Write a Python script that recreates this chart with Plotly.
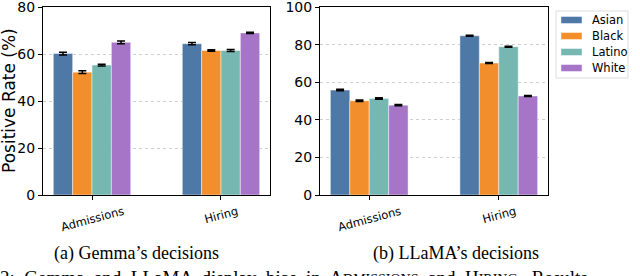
import plotly.graph_objects as go

# ---- data ----
tasks = ["Admissions", "Hiring"]
groups = ["Asian", "Black", "Latino", "White"]
colors = ["#4e79a7", "#f28e2b", "#76b7b2", "#a675c7"]

gemma_vals = {
    "Asian": [60.2, 64.4],
    "Black": [52.3, 61.5],
    "Latino": [55.3, 61.5],
    "White": [65.0, 69.0],
}
gemma_err = {
    "Asian": [0.6, 0.5],
    "Black": [0.6, 0.3],
    "Latino": [0.4, 0.4],
    "White": [0.6, 0.3],
}
llama_vals = {
    "Asian": [55.8, 84.7],
    "Black": [50.1, 70.2],
    "Latino": [51.3, 78.9],
    "White": [47.8, 52.7],
}
llama_err = {
    "Asian": [0.4, 0.3],
    "Black": [0.4, 0.3],
    "Latino": [0.4, 0.3],
    "White": [0.3, 0.3],
}
gemma_ticks = [0, 20, 40, 60, 80]
llama_ticks = [0, 20, 40, 60, 80, 100]
captions = ["(a) Gemma’s decisions", "(b) LLaMA’s decisions"]
y_title = "Positive Rate (%)"

W, H = 640, 276
xpos = list(range(len(tasks)))

fig = go.Figure()

def add_panel(vals, errs, xa, ya):
    for g, c in zip(groups, colors):
        fig.add_trace(go.Bar(
            x=xpos, y=vals[g], name=g, showlegend=False,
            marker=dict(color=c, line=dict(color="rgba(255,255,255,0.45)", width=1)),
            error_y=dict(type="data", array=errs[g], color="black", thickness=1.5, width=4),
            xaxis=xa, yaxis=ya,
        ))

add_panel(gemma_vals, gemma_err, "x", "y")
add_panel(llama_vals, llama_err, "x2", "y2")

ydom = [1 - 195 / H, 1 - 7 / H]
common_x = dict(range=[-0.38, 1.38], tickvals=xpos, showticklabels=False,
                ticks="outside", ticklen=4, tickcolor="black", automargin=False,
                showline=True, linecolor="black", linewidth=1, mirror=True,
                showgrid=False, zeroline=False)
common_y = dict(ticks="outside", ticklen=4, tickcolor="black", automargin=False,
                showline=True, linecolor="black", linewidth=1, mirror=True,
                showgrid=True, gridcolor="#cfcfcf", griddash="dot", gridwidth=1,
                zeroline=False, ticklabeloverflow="allow",
                tickfont=dict(size=14, color="black", family="DejaVu Sans"))

fig.update_layout(
    width=W, height=H,
    margin=dict(l=0, r=0, t=0, b=0),
    paper_bgcolor="white", plot_bgcolor="white",
    barmode="group", bargap=0.4, bargroupgap=0,
    font=dict(family="DejaVu Sans", color="black"),
    xaxis=dict(domain=[43 / W, 270 / W], anchor="y", **common_x),
    xaxis2=dict(domain=[320 / W, 548 / W], anchor="y2", **common_x),
    yaxis=dict(domain=ydom, anchor="x", range=[0, 80.02], tickvals=gemma_ticks, **common_y),
    yaxis2=dict(domain=ydom, anchor="x2", range=[0, 100.02], tickvals=llama_ticks, **common_y),
    showlegend=False,
)

# y-axis title
fig.add_annotation(x=9 / W, y=1 - 101 / H, xref="paper", yref="paper",
                   text=y_title, showarrow=False, textangle=-90,
                   xanchor="center", yanchor="middle",
                   font=dict(size=17, family="DejaVu Sans"))

# rotated category labels under each tick
for xa in ["x", "x2"]:
    for i, t in enumerate(tasks):
        fig.add_annotation(x=i, y=1 - 201 / H, xref=xa, yref="paper",
                           text=t, showarrow=False, textangle=-15,
                           xanchor="center", yanchor="top",
                           font=dict(size=11.5, family="DejaVu Sans"))

# manual legend (box, swatches, labels)
fig.add_shape(type="rect", xref="paper", yref="paper",
              x0=556 / W, x1=628 / W, y0=1 - 78 / H, y1=1 - 11 / H,
              line=dict(color="#dddddd", width=1), fillcolor="white")
for k, (g, c) in enumerate(zip(groups, colors)):
    yc = 20 + 16 * k
    fig.add_shape(type="rect", xref="paper", yref="paper",
                  x0=561 / W, x1=582 / W, y0=1 - (yc + 3.5) / H, y1=1 - (yc - 3.5) / H,
                  line=dict(color="rgba(255,255,255,0.45)", width=1), fillcolor=c)
    fig.add_annotation(x=590 / W, y=1 - yc / H, xref="paper", yref="paper",
                       text=g, showarrow=False, xanchor="left", yanchor="middle",
                       font=dict(size=11.5, family="DejaVu Sans"))

# captions
for cx, cap in zip([136, 456], captions):
    fig.add_annotation(x=cx / W, y=1 - 253 / H, xref="paper", yref="paper",
                       text=cap, showarrow=False, xanchor="center", yanchor="middle",
                       font=dict(size=18, family="Liberation Serif"))

sc = lambda s: s[0] + "<span style='font-size:14px'>" + s[1:] + "</span>"
fig.add_annotation(x=-2 / W, y=1 - 265 / H, xref="paper", yref="paper",
                   text="2:  Gemma  and  LLaMA  display  bias  in  " + sc("ADMISSIONS") +
                        "  and  " + sc("HIRING") + ".  Results",
                   showarrow=False, xanchor="left", yanchor="top",
                   font=dict(size=19, family="Liberation Serif"))

fig.write_html("out.html",
               config={"displayModeBar": False},
               post_script="document.body.style.margin='0';document.body.style.overflow='hidden';")
